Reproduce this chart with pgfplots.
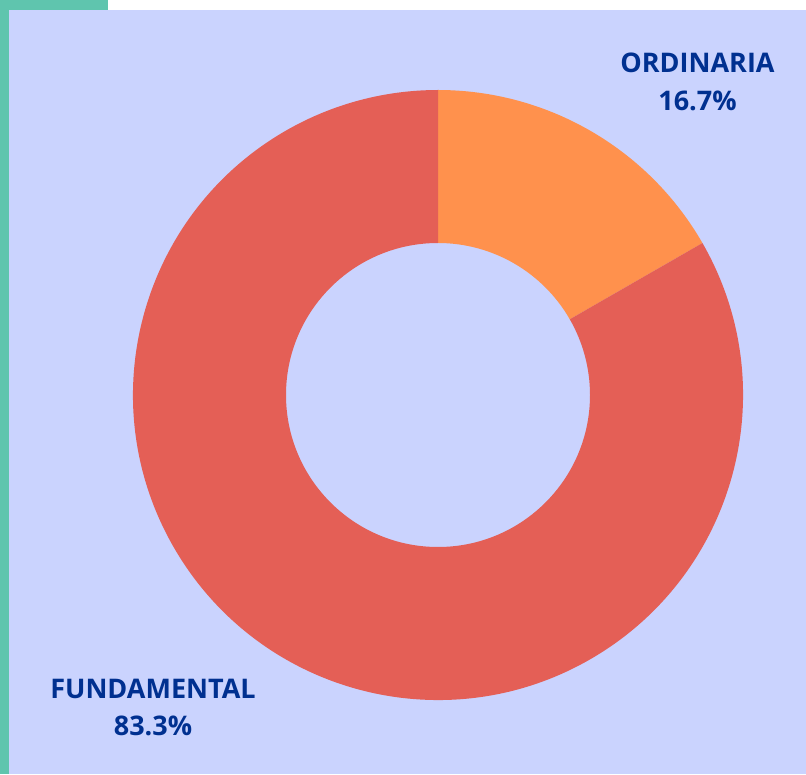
\documentclass[border=0pt]{standalone}
\usepackage{pgfplots}
\pgfplotsset{compat=1.18}
\usepackage{pgfplotstable}
\usepackage{fontspec}
\setmainfont{Open Sans}
\definecolor{bg}{HTML}{CAD3FE}
\definecolor{teal}{HTML}{5FC5AE}
\definecolor{ordcol}{HTML}{FF914D}
\definecolor{funcol}{HTML}{E45F56}
\definecolor{tc}{HTML}{003090}
\pgfplotstableread{
label value
ORDINARIA 16.7
FUNDAMENTAL 83.3
}\piedata
\begin{document}
\begin{tikzpicture}
\pgfplotstablegetelem{0}{value}\of\piedata \pgfmathsetmacro{\va}{\pgfplotsretval}
\pgfplotstablegetelem{1}{value}\of\piedata \pgfmathsetmacro{\vb}{\pgfplotsretval}
\pgfmathsetmacro{\aa}{90-3.6*\va}
\pgfmathsetmacro{\ab}{\aa-3.6*\vb}
\begin{axis}[x=1pt,y=1pt,xmin=0,xmax=806,ymin=0,ymax=774,hide axis,anchor=origin,at={(0,0)},clip=false]
\fill[white] (axis cs:0,0) rectangle (axis cs:806,774);
\fill[bg] (axis cs:9,0) rectangle (axis cs:806,764);
\fill[teal] (axis cs:0,0) rectangle (axis cs:9,774);
\fill[teal] (axis cs:0,764) rectangle (axis cs:108,774);
\fill[ordcol] (axis cs:438,379) ++(90:305pt) arc[start angle=90,end angle=\aa,radius=305pt] -- ++({\aa+180}:153pt) arc[start angle=\aa,end angle=90,radius=152pt] -- cycle;
\fill[funcol] (axis cs:438,379) ++({\aa}:305pt) arc[start angle=\aa,end angle=\ab,radius=305pt] -- ++({\ab+180}:153pt) arc[start angle=\ab,end angle=\aa,radius=152pt] -- cycle;
\node[font=\bfseries\fontsize{27}{32}\selectfont, text=tc, anchor=base] at (axis cs:697.5,701) {ORDINARIA};
\node[font=\bfseries\fontsize{27}{32}\selectfont, text=tc, anchor=base] at (axis cs:697.5,663) {16.7\%};
\node[font=\bfseries\fontsize{27}{32}\selectfont, text=tc, anchor=base] at (axis cs:153,75) {FUNDAMENTAL};
\node[font=\bfseries\fontsize{27}{32}\selectfont, text=tc, anchor=base] at (axis cs:153,38) {83.3\%};
\end{axis}
\end{tikzpicture}
\end{document}
